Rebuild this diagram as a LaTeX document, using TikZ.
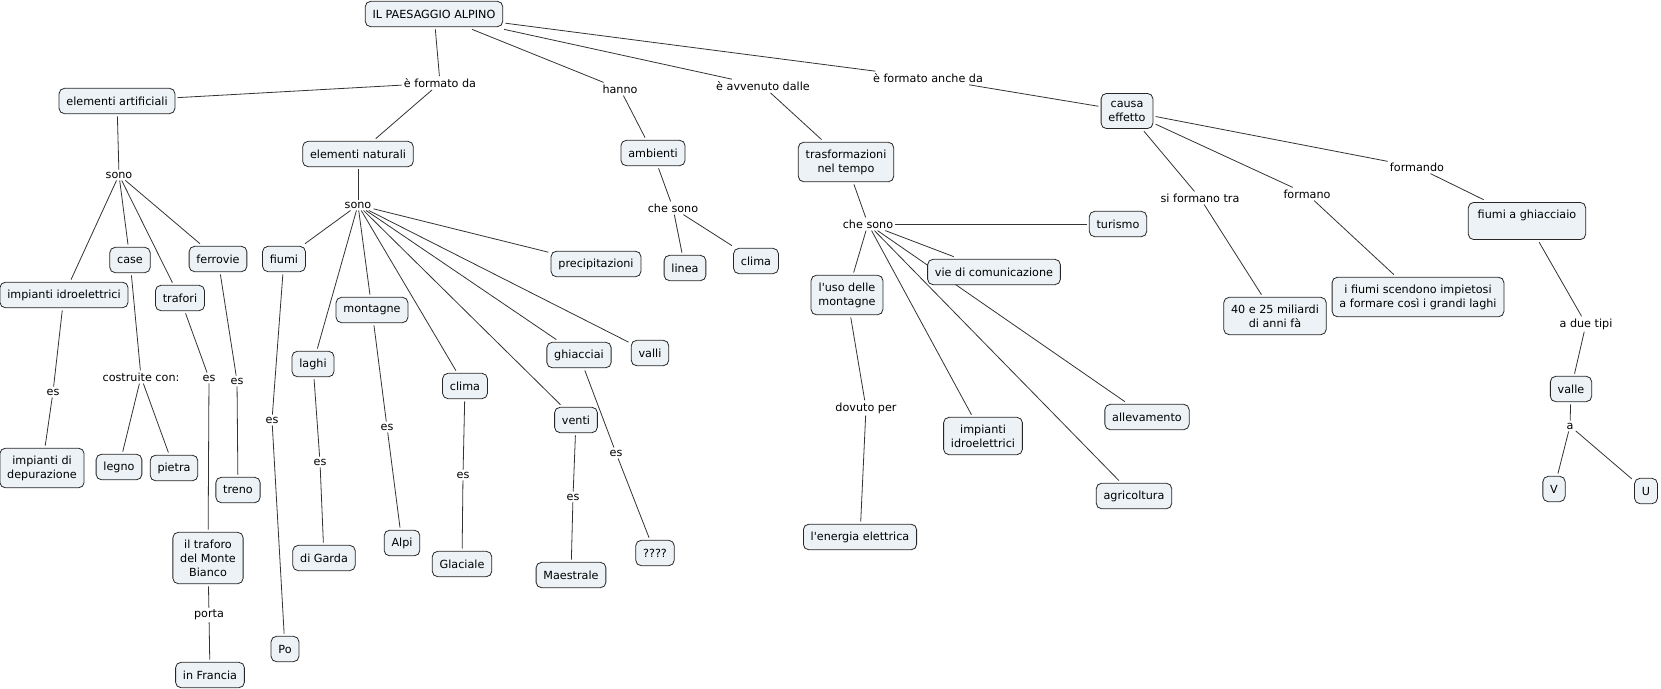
\documentclass[tikz,border=0pt]{standalone}
\usepackage{fontspec}
\setmainfont{DejaVu Sans}
\usetikzlibrary{backgrounds}
\definecolor{cmapfill}{RGB}{236,242,245}
\tikzset{
  concept/.style={draw=black!85, fill=cmapfill, rounded corners=4pt, align=center,
    inner xsep=5.5pt, inner ysep=5.5pt, minimum height=19pt, outer sep=2pt, line width=0.6pt},
  phrase/.style={inner sep=1.5pt, align=center},
  link/.style={draw=black!80, line width=0.6pt}
}

\begin{document}
\begin{tikzpicture}[x=0.75pt, y=-0.75pt, font=\fontsize{8.4}{10.5}\selectfont]
\useasboundingbox (0,0) rectangle (1661,689);
% concetti
\node[concept] (root) at (434,14) {IL PAESAGGIO ALPINO};
\node[concept] (el_art) at (117,101) {elementi artificiali};
\node[concept] (el_nat) at (358,154) {elementi naturali};
\node[concept] (ambienti) at (653,153) {ambienti};
\node[concept] (trasf) at (846,162) {trasformazioni\\nel tempo};
\node[concept] (causa) at (1127,111) {causa\\effetto};
\node[concept] (imp_idro) at (64,295) {impianti idroelettrici};
\node[concept] (case) at (130,260) {case};
\node[concept] (trafori) at (180,298) {trafori};
\node[concept] (ferrovie) at (218,259) {ferrovie};
\node[concept] (depur) at (42,468) {impianti di\\depurazione};
\node[concept] (legno) at (119,467) {legno};
\node[concept] (pietra) at (174,468) {pietra};
\node[concept] (treno) at (238,490) {treno};
\node[concept] (traforo) at (208,558) {il traforo\\del Monte\\Bianco};
\node[concept] (francia) at (210,675) {in Francia};
\node[concept] (fiumi) at (284,259) {fiumi};
\node[concept] (laghi) at (313,364) {laghi};
\node[concept] (montagne) at (372,310) {montagne};
\node[concept] (clima_n) at (465,386) {clima};
\node[concept] (ghiacciai) at (579,355) {ghiacciai};
\node[concept] (venti) at (576,420) {venti};
\node[concept] (valli) at (650,353) {valli};
\node[concept] (precip) at (596,264) {precipitazioni};
\node[concept] (po) at (285,649) {Po};
\node[concept] (garda) at (324,558) {di Garda};
\node[concept] (alpi) at (402,543) {Alpi};
\node[concept] (glaciale) at (462,564) {Glaciale};
\node[concept] (maestrale) at (571,575) {Maestrale};
\node[concept] (ignoto) at (655,553) {????};
\node[concept] (linea) at (685,268) {linea};
\node[concept] (clima_a) at (756,261) {clima};
\node[concept] (turismo) at (1118,224) {turismo};
\node[concept] (uso) at (847,295) {l\textquotesingle uso delle\\montagne};
\node[concept] (vie) at (994,272) {vie di comunicazione};
\node[concept] (imp_idro2) at (983,436) {impianti\\idroelettrici};
\node[concept] (allev) at (1147,417) {allevamento};
\node[concept] (agric) at (1134,496) {agricoltura};
\node[concept] (energia) at (860,537) {l\textquotesingle energia elettrica};
\node[concept] (miliardi) at (1275,316) {40 e 25 miliardi\\di anni fà};
\node[concept] (laghi_gr) at (1418,297) {i fiumi scendono impietosi\\a formare così i grandi laghi};
\node[concept, minimum width=88pt] (fiumi_gh) at (1527,221) {fiumi a ghiacciaio\\\mbox{}};
\node[concept] (valle) at (1571,389) {valle};
\node[concept] (v) at (1554,489) {V};
\node[concept] (u) at (1646,491) {U};
% frasi legame
\node[phrase] (l_formato) at (440,83) {è formato da};
\node[phrase] (l_hanno) at (620,89) {hanno};
\node[phrase] (l_avvenuto) at (763,86) {è avvenuto dalle};
\node[phrase] (l_anche) at (928,78) {è formato anche da};
\node[phrase] (l_sono_a) at (119,175) {sono};
\node[phrase] (l_sono_n) at (358,205) {sono};
\node[phrase] (l_costr) at (141,377) {costruite con:};
\node[phrase] (l_es_idro) at (53,392) {es};
\node[phrase] (l_es_traf) at (209,378) {es};
\node[phrase] (l_es_ferr) at (237,381) {es};
\node[phrase] (l_porta) at (209,615) {porta};
\node[phrase] (l_es_fiumi) at (272,420) {es};
\node[phrase] (l_es_laghi) at (320,462) {es};
\node[phrase] (l_es_mont) at (387,427) {es};
\node[phrase] (l_es_clima) at (463,475) {es};
\node[phrase] (l_es_venti) at (573,497) {es};
\node[phrase] (l_es_ghiac) at (616,453) {es};
\node[phrase] (l_che_a) at (673,208) {che sono};
\node[phrase] (l_che_t) at (868,224) {che sono};
\node[phrase] (l_dovuto) at (866,408) {dovuto per};
\node[phrase] (l_si) at (1200,198) {si formano tra};
\node[phrase] (l_formano) at (1307,194) {formano};
\node[phrase] (l_formando) at (1417,167) {formando};
\node[phrase] (l_due) at (1586,324) {a due tipi};
\node[phrase] (l_a) at (1570,426) {a};
% collegamenti
\begin{pgfonlayer}{background}
\path[link]
  (root) edge (l_formato)
         edge (l_hanno)
         edge (l_avvenuto)
         edge (l_anche)
  (l_formato) edge (el_art)
              edge (el_nat)
  (l_hanno) edge (ambienti)
  (l_avvenuto) edge (trasf)
  (l_anche) edge (causa)
  (el_art) edge (l_sono_a)
  (l_sono_a) edge (imp_idro)
             edge (case)
             edge (trafori)
             edge (ferrovie)
  (case) edge (l_costr)
  (l_costr) edge (legno)
            edge (pietra)
  (imp_idro) edge (l_es_idro)
  (l_es_idro) edge (depur)
  (trafori) edge (l_es_traf)
  (l_es_traf) edge (traforo)
  (ferrovie) edge (l_es_ferr)
  (l_es_ferr) edge (treno)
  (traforo) edge (l_porta)
  (l_porta) edge (francia)
  (el_nat) edge (l_sono_n)
  (l_sono_n) edge (fiumi)
             edge (laghi)
             edge (montagne)
             edge (clima_n)
             edge (venti)
             edge (ghiacciai)
             edge (valli)
             edge (precip)
  (fiumi) edge (l_es_fiumi)
  (l_es_fiumi) edge (po)
  (laghi) edge (l_es_laghi)
  (l_es_laghi) edge (garda)
  (montagne) edge (l_es_mont)
  (l_es_mont) edge (alpi)
  (clima_n) edge (l_es_clima)
  (l_es_clima) edge (glaciale)
  (venti) edge (l_es_venti)
  (l_es_venti) edge (maestrale)
  (ghiacciai) edge (l_es_ghiac)
  (l_es_ghiac) edge (ignoto)
  (ambienti) edge (l_che_a)
  (l_che_a) edge (linea)
            edge (clima_a)
  (trasf) edge (l_che_t)
  (l_che_t) edge (turismo)
            edge (uso)
            edge (vie)
            edge (imp_idro2)
            edge (agric)
            edge (allev)
  (uso) edge (l_dovuto)
  (l_dovuto) edge (energia)
  (causa) edge (l_si)
          edge (l_formano)
          edge (l_formando)
  (l_si) edge (miliardi)
  (l_formano) edge (laghi_gr)
  (l_formando) edge (fiumi_gh)
  (fiumi_gh) edge (l_due)
  (l_due) edge (valle)
  (valle) edge (l_a)
  (l_a) edge (v)
        edge (u);
\end{pgfonlayer}
\end{tikzpicture}
\end{document}
